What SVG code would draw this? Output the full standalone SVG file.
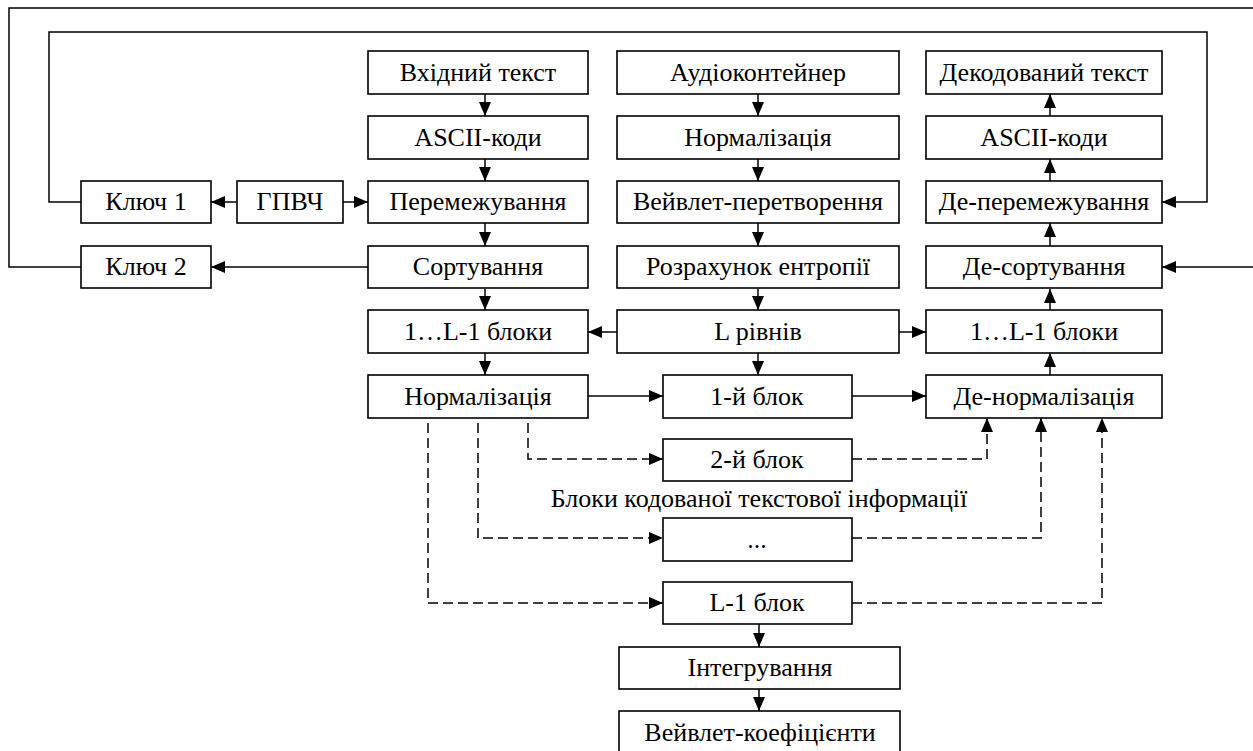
<svg xmlns="http://www.w3.org/2000/svg" width="1253" height="751" viewBox="0 0 1253 751">
<style>
.box{fill:#fff;stroke:#000;stroke-width:1.6}
.t{font-family:"Liberation Serif","Times New Roman",serif;font-size:26px;fill:#000;text-anchor:middle}
.c{fill:none;stroke:#000;stroke-width:1.5}
.d{fill:none;stroke:#000;stroke-width:1.5;stroke-dasharray:10 5}
</style>
<defs>
<marker id="ah" viewBox="0 0 14 12" refX="14" refY="6" markerWidth="14" markerHeight="12" markerUnits="userSpaceOnUse" orient="auto">
<path d="M0,0 L14,6 L0,12 z" fill="#000"/>
</marker>
</defs>
<rect width="1253" height="751" fill="#fff"/>
<g id="connectors">
<g marker-end="url(#ah)">
<path class="c" d="M485,94 V116"/>
<path class="c" d="M485,159 V181"/>
<path class="c" d="M485,223 V246"/>
<path class="c" d="M485,289 V310"/>
<path class="c" d="M485,353 V375"/>
<path class="c" d="M758,94 V116"/>
<path class="c" d="M758,159 V181"/>
<path class="c" d="M758,223 V246"/>
<path class="c" d="M758,289 V310"/>
<path class="c" d="M758,353 V375"/>
<path class="c" d="M1050,116 V94"/>
<path class="c" d="M1050,181 V159"/>
<path class="c" d="M1050,246 V223"/>
<path class="c" d="M1050,310 V289"/>
<path class="c" d="M1050,375 V353"/>
<path class="c" d="M237,202 H211"/>
<path class="c" d="M343,202 H368"/>
<path class="c" d="M368,267 H211"/>
<path class="c" d="M81,202 H49 V32 H1207 V202 H1162"/>
<path class="c" d="M81,267 H9 V8 H1257 V267 H1162"/>
<path class="c" d="M617,332 H588"/>
<path class="c" d="M899,332 H926"/>
<path class="c" d="M588,396 H663"/>
<path class="c" d="M852,396 H926"/>
<path class="c" d="M759,624 V647"/>
<path class="c" d="M759,689 V711"/>
<path class="d" d="M528,423 V459 H663"/>
<path class="d" d="M478,423 V538 H663"/>
<path class="d" d="M428,423 V603 H663"/>
<path class="d" d="M852,459 H987 V418"/>
<path class="d" d="M852,538 H1041 V418"/>
<path class="d" d="M852,603 H1102 V418"/>
</g>
</g>
<g id="n_in_text"><rect class="box" x="368" y="51" width="220" height="43"/><text class="t" x="478" y="81">Вхідний текст</text></g>
<g id="n_ascii1"><rect class="box" x="368" y="116" width="220" height="43"/><text class="t" x="478" y="146">ASCII-коди</text></g>
<g id="n_perem"><rect class="box" x="368" y="181" width="220" height="42"/><text class="t" x="478" y="210">Перемежування</text></g>
<g id="n_sort"><rect class="box" x="368" y="246" width="220" height="42"/><text class="t" x="478" y="275">Сортування</text></g>
<g id="n_blocks1"><rect class="box" x="368" y="310" width="220" height="43"/><text class="t" x="478" y="340">1…L-1 блоки</text></g>
<g id="n_norm1"><rect class="box" x="368" y="375" width="220" height="43"/><text class="t" x="478" y="405">Нормалізація</text></g>
<g id="n_key1"><rect class="box" x="81" y="181" width="130" height="42"/><text class="t" x="146" y="210">Ключ 1</text></g>
<g id="n_gpvch"><rect class="box" x="237" y="181" width="106" height="42"/><text class="t" x="290" y="210">ГПВЧ</text></g>
<g id="n_key2"><rect class="box" x="81" y="246" width="130" height="42"/><text class="t" x="146" y="275">Ключ 2</text></g>
<g id="n_audio"><rect class="box" x="617" y="51" width="282" height="43"/><text class="t" x="758" y="81">Аудіоконтейнер</text></g>
<g id="n_norm_a"><rect class="box" x="617" y="116" width="282" height="43"/><text class="t" x="758" y="146">Нормалізація</text></g>
<g id="n_wavelet"><rect class="box" x="617" y="181" width="282" height="42"/><text class="t" x="758" y="210">Вейвлет-перетворення</text></g>
<g id="n_entropy"><rect class="box" x="617" y="246" width="282" height="42"/><text class="t" x="758" y="275">Розрахунок ентропії</text></g>
<g id="n_levels"><rect class="box" x="617" y="310" width="282" height="43"/><text class="t" x="758" y="340">L рівнів</text></g>
<g id="n_block1"><rect class="box" x="663" y="375" width="189" height="43"/><text class="t" x="757" y="405">1-й блок</text></g>
<g id="n_block2"><rect class="box" x="663" y="439" width="189" height="42"/><text class="t" x="757" y="468">2-й блок</text></g>
<g id="n_label"><text class="t" x="759" y="507">Блоки кодованої текстової інформації</text></g>
<g id="n_blockdots"><rect class="box" x="663" y="518" width="189" height="43"/><text class="t" x="757" y="548">...</text></g>
<g id="n_blockL"><rect class="box" x="663" y="582" width="189" height="42"/><text class="t" x="757" y="611">L-1 блок</text></g>
<g id="n_integr"><rect class="box" x="619" y="647" width="281" height="42"/><text class="t" x="760" y="676">Інтегрування</text></g>
<g id="n_coef"><rect class="box" x="619" y="711" width="281" height="43"/><text class="t" x="760" y="741">Вейвлет-коефіцієнти</text></g>
<g id="n_dec_text"><rect class="box" x="926" y="51" width="236" height="43"/><text class="t" x="1044" y="81">Декодований текст</text></g>
<g id="n_ascii2"><rect class="box" x="926" y="116" width="236" height="43"/><text class="t" x="1044" y="146">ASCII-коди</text></g>
<g id="n_deperem"><rect class="box" x="926" y="181" width="236" height="42"/><text class="t" x="1044" y="210">Де-перемежування</text></g>
<g id="n_desort"><rect class="box" x="926" y="246" width="236" height="42"/><text class="t" x="1044" y="275">Де-сортування</text></g>
<g id="n_blocks2"><rect class="box" x="926" y="310" width="236" height="43"/><text class="t" x="1044" y="340">1…L-1 блоки</text></g>
<g id="n_denorm"><rect class="box" x="926" y="375" width="236" height="43"/><text class="t" x="1044" y="405">Де-нормалізація</text></g>
</svg>
